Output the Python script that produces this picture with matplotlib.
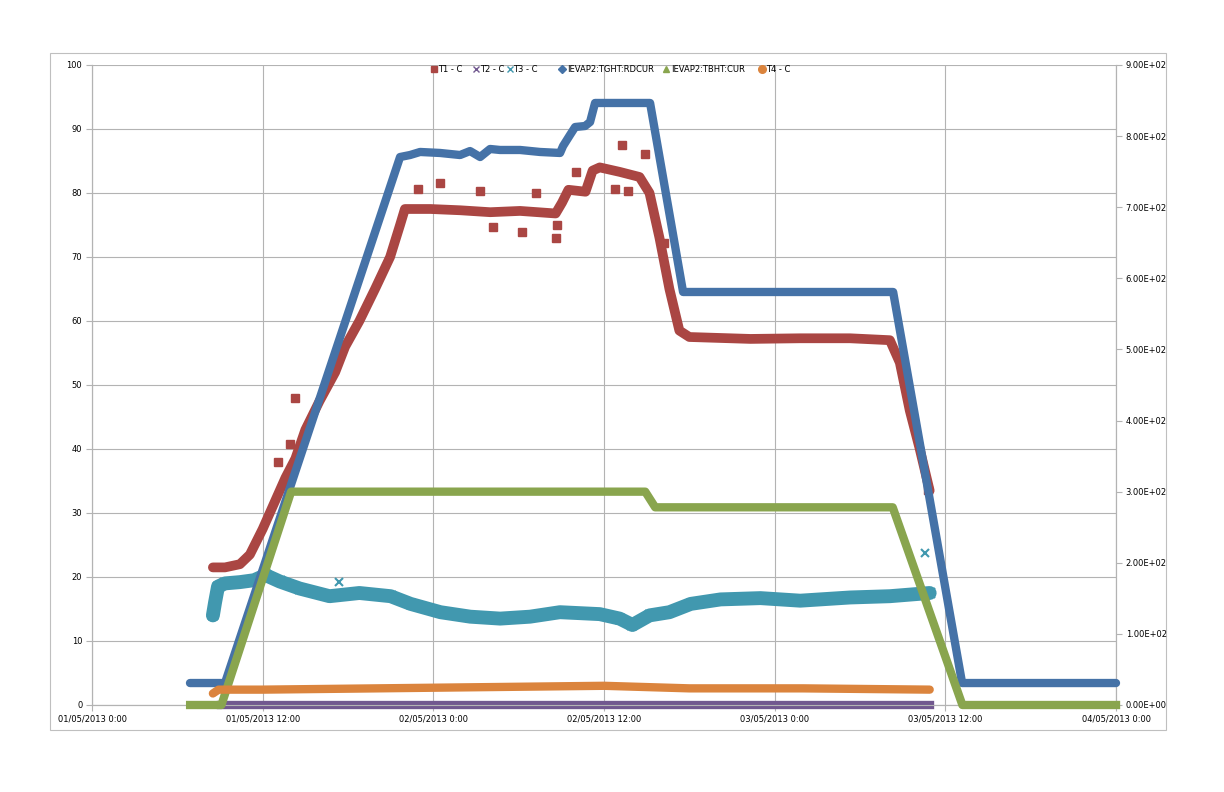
import matplotlib
matplotlib.use("Agg")
import matplotlib.pyplot as plt
from matplotlib.patches import Rectangle
from matplotlib.lines import Line2D

# ---------------- data (x in hours from 01/05/2013 0:00) ----------------
x_tick_hours = [0, 12, 24, 36, 48, 60, 72]
x_tick_labels = ["01/05/2013 0:00", "01/05/2013 12:00", "02/05/2013 0:00",
                 "02/05/2013 12:00", "03/05/2013 0:00", "03/05/2013 12:00",
                 "04/05/2013 0:00"]
left_ticks = [0, 10, 20, 30, 40, 50, 60, 70, 80, 90, 100]
right_ticks = [0, 100, 200, 300, 400, 500, 600, 700, 800, 900]
right_tick_labels = ["0.00E+00", "1.00E+02", "2.00E+02", "3.00E+02", "4.00E+02",
                     "5.00E+02", "6.00E+02", "7.00E+02", "8.00E+02", "9.00E+02"]
series_names = ["T1 - C", "T2 - C", "T3 - C", "IEVAP2:TGHT:RDCUR",
                "IEVAP2:TBHT:CUR", "T4 - C"]

# T1 - C (left axis)
t1_h = [8.5, 9.35, 10.4, 11.1, 12.0, 12.9, 13.6, 14.3, 15.0, 16.0, 17.1, 17.8,
        18.8, 19.9, 20.96, 21.66, 22.0, 23.8, 25.9, 28.0, 30.1, 32.6, 33.05, 33.5,
        34.7, 35.2, 35.7, 37.1, 38.5, 39.2, 39.9, 40.6, 41.3, 42.0, 46.3, 49.8,
        53.3, 56.1, 56.8, 57.5, 58.2, 58.9]
t1_v = [21.5, 21.5, 22.0, 23.5, 27.5, 32.0, 35.5, 38.5, 43.0, 47.5, 52.0, 56.0,
        60.0, 65.0, 70.0, 75.0, 77.5, 77.5, 77.3, 77.0, 77.2, 76.8, 78.5, 80.5,
        80.2, 83.5, 84.0, 83.3, 82.5, 80.0, 73.0, 65.0, 58.5, 57.5, 57.2, 57.3,
        57.3, 57.0, 53.5, 46.0, 40.0, 33.5]
t1_out_h = [14.3, 13.9, 13.1, 22.9, 24.5, 27.3, 28.2, 30.2, 31.2, 32.6, 32.7,
            34.0, 36.8, 37.3, 37.7, 38.9, 40.2, 58.8]
t1_out_v = [48.0, 40.8, 38.0, 80.6, 81.6, 80.3, 74.7, 73.9, 80.0, 73.0, 75.0,
            83.3, 80.6, 87.5, 80.3, 86.1, 72.2, 33.6]

# T2 - C (left axis)
t2_h = [9.1, 58.9]
t2_v = [0.0, 0.0]

# T3 - C (left axis)
t3_h = [8.5, 8.65, 8.86, 9.35, 10.4, 11.4, 12.2, 13.2, 14.6, 16.7, 18.8, 21.0,
        22.4, 24.5, 26.6, 28.7, 30.8, 32.9, 35.7, 37.1, 38.0, 39.2, 40.6, 42.1,
        44.2, 47.0, 49.8, 53.3, 56.1, 58.9]
t3_v = [14.0, 16.0, 18.5, 19.0, 19.2, 19.5, 20.3, 19.3, 18.2, 17.0, 17.5, 17.0,
        15.8, 14.5, 13.8, 13.5, 13.8, 14.5, 14.2, 13.5, 12.5, 14.0, 14.5, 15.8,
        16.5, 16.7, 16.3, 16.8, 17.0, 17.5]
t3_out_h = [58.6, 17.4]
t3_out_v = [23.8, 19.2]

# IEVAP2:TGHT:RDCUR (right axis)
rd_h = [6.89, 9.35, 21.66, 22.36, 23.07, 24.47, 25.88, 26.58, 27.29, 27.99,
        28.69, 30.10, 31.50, 32.91, 33.12, 33.61, 33.97, 34.67, 35.02, 35.37,
        39.24, 41.56, 56.33, 61.18, 72.0]
rd_v = [30.9, 30.9, 770.6, 773.4, 777.7, 776.3, 773.4, 779.0, 770.6, 781.9,
        780.5, 780.5, 777.7, 776.3, 786.0, 801.6, 812.8, 814.2, 819.8, 846.6,
        846.6, 580.8, 580.8, 30.9, 30.9]

# IEVAP2:TBHT:CUR (right axis)
cur_h = [6.9, 9.1, 14.0, 38.9, 39.6, 56.3, 61.2, 72.0]
cur_v = [0.0, 0.0, 300.0, 300.0, 278.0, 278.0, 0.0, 0.0]

# T4 - C (left axis)
t4_h = [8.5, 8.9, 12.0, 20.0, 28.0, 36.0, 39.0, 42.0, 50.0, 58.9]
t4_v = [1.8, 2.4, 2.4, 2.6, 2.8, 3.0, 2.8, 2.6, 2.6, 2.4]

c_red = "#AA4643"
c_purple = "#71588F"
c_teal = "#4198AF"
c_blue = "#4572A7"
c_green = "#89A54E"
c_orange = "#DB843D"
grid_c = "#B3B3B3"

W, H = 1224, 792
plt.rcParams['font.family'] = ['DejaVu Sans']
fig = plt.figure(figsize=(W / 100, H / 100), dpi=100)
fig.patches.append(Rectangle((50 / W, 1 - 730 / H), 1116 / W, 677 / H,
                             transform=fig.transFigure, fill=False,
                             edgecolor="#BFBFBF", linewidth=0.8))

ax = fig.add_axes([92 / W, 1 - 705 / H, 1024 / W, 640 / H])
ax2 = ax.twinx()
ax.set_zorder(1)
ax2.set_zorder(2)
ax2.patch.set_visible(False)

lw = 6
k = 9.0  # left scale 0-100 corresponds to right scale 0-900
# left-axis series
ax.plot(t1_h, t1_v, color=c_red, lw=lw + 1, solid_capstyle='round', zorder=3)
ax.plot(t1_out_h, t1_out_v, 's', color=c_red, ms=6, zorder=3)
ax.plot(t3_h, t3_v, color=c_teal, lw=lw + 4, solid_capstyle='round', zorder=3)
ax.plot(t3_h, t3_v, 'x', color=c_teal, ms=7, mew=1.5, zorder=3)
ax.plot(t3_out_h, t3_out_v, 'x', color=c_teal, ms=6, mew=1.5, zorder=3)

# series drawn on the upper layer
ax2.plot(t2_h, [v * k for v in t2_v], color=c_purple, lw=lw, zorder=2,
         clip_on=False)
ax2.plot(rd_h, rd_v, color=c_blue, lw=lw, solid_capstyle='round',
         solid_joinstyle='round', zorder=3, clip_on=False)
ax2.plot(cur_h, cur_v, color=c_green, lw=lw, solid_joinstyle='round', zorder=4,
         clip_on=False)
ax2.plot(t4_h, [v * k for v in t4_v], color=c_orange, lw=lw,
         solid_capstyle='round', zorder=5, clip_on=False)

ax.set_xlim(0, 72)
ax.set_ylim(0, 100)
ax2.set_ylim(0, 900)
ax.set_xticks(x_tick_hours)
ax.set_xticklabels(x_tick_labels, fontsize=6)
ax.set_yticks(left_ticks)
ax.set_yticklabels([str(t) for t in left_ticks], fontsize=6)
ax2.set_yticks(right_ticks)
ax2.set_yticklabels(right_tick_labels, fontsize=6)
ax.grid(True, color=grid_c, lw=0.8, zorder=0)
ax.set_axisbelow(True)
ax.tick_params(axis='both', length=4, color=grid_c, pad=3)
ax2.tick_params(axis='y', length=4, color=grid_c, pad=3)
for a in (ax, ax2):
    for s in a.spines.values():
        s.set_color(grid_c)
        s.set_linewidth(0.8)
    a.spines['top'].set_visible(False)

# legend (Excel-style layout, placed manually)
leg_marker_x = [433.5, 475.5, 509.5, 561.5, 666.5, 761.5]
leg_text_x = [438, 480, 513, 567, 671, 766]
leg_y = 69
leg_styles = [
    dict(marker='s', color=c_red, ms=5),
    dict(marker='x', color=c_purple, ms=5, mew=1),
    dict(marker='x', color=c_teal, ms=5, mew=1),
    dict(marker='D', color=c_blue, ms=4),
    dict(marker='^', color=c_green, ms=5),
    dict(marker='o', color=c_orange, ms=5.5),
]
for mx, tx, st, name in zip(leg_marker_x, leg_text_x, leg_styles, series_names):
    fig.add_artist(Line2D([mx / W], [1 - leg_y / H], ls='none',
                          transform=fig.transFigure, zorder=10, **st))
    fig.text(tx / W, 1 - leg_y / H, name, fontsize=6, va='center', ha='left',
             zorder=10)

fig.savefig("out.png", dpi=100)
